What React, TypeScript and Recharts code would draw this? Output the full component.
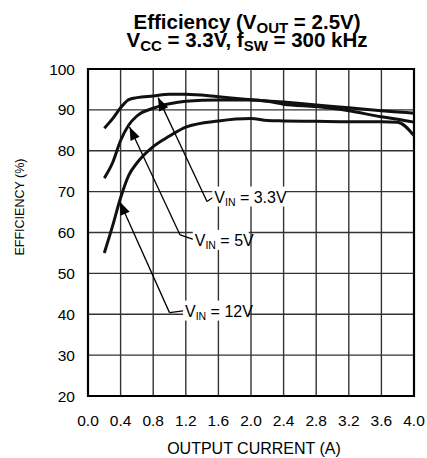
import {
  LineChart,
  Line,
  XAxis,
  YAxis,
  CartesianGrid,
  ReferenceLine,
  ReferenceDot,
  ReferenceArea,
} from "recharts";

// output current (A)
const current = [0.2, 0.3, 0.4, 0.5, 0.6, 0.8, 1.0, 1.2, 1.6, 2.0, 2.2, 2.4, 2.8, 3.2, 3.6, 3.8, 4.0];
// efficiency (%) per input voltage
const effVin33 = [85.5, 87.8, 90.5, 92.5, 93.0, 93.4, 93.8, 93.8, 93.2, 92.5, 92.2, 91.9, 91.2, 90.5, 89.8, 89.5, 89.2];
const effVin5 = [73.3, 77.0, 82.5, 86.3, 88.5, 90.4, 91.5, 92.1, 92.4, 92.4, 92.1, 91.4, 90.8, 89.8, 88.3, 87.7, 87.0];
const effVin12 = [55.0, 61.5, 68.5, 74.0, 77.0, 81.0, 83.6, 85.8, 87.3, 87.9, 87.4, 87.3, 87.2, 87.1, 87.1, 87.0, 83.7];

const xTicks = [0, 0.4, 0.8, 1.2, 1.6, 2.0, 2.4, 2.8, 3.2, 3.6, 4.0];
const yTicks = [20, 30, 40, 50, 60, 70, 80, 90, 100];

// callouts: label, arrow tip on the curve, elbow, text anchor
const calloutLabels = ["3.3V", "5V", "12V"];
const calloutTips = [[0.86, 93.0], [0.51, 85.8], [0.39, 67.5]];
const calloutElbows = [[1.46, 67.6], [1.13, 59.4], [1.0, 40.4]];
const calloutTexts = [[1.55, 68.8], [1.31, 58.2], [1.19, 40.9]];

const data = current.map((c, i) => ({
  current: c,
  v33: effVin33[i],
  v5: effVin5[i],
  v12: effVin12[i],
}));

const FONT = "'Liberation Sans', Arial, sans-serif";

function ArrowShape(props: any) {
  const { x1, y1, x2, y2 } = props;
  const dx = x2 - x1;
  const dy = y2 - y1;
  const len = Math.sqrt(dx * dx + dy * dy) || 1;
  const ux = dx / len;
  const uy = dy / len;
  const hl = 13;
  const hw = 5;
  const bx = x1 + ux * hl;
  const by = y1 + uy * hl;
  return (
    <g>
      <line x1={x1} y1={y1} x2={x2} y2={y2} stroke="#000" strokeWidth={1.3} />
      <polygon
        points={`${x1},${y1} ${bx - uy * hw},${by + ux * hw} ${bx + uy * hw},${by - ux * hw}`}
        fill="#000"
      />
    </g>
  );
}

function LeaderShape(props: any) {
  const { x1, y1, x2, y2 } = props;
  return <line x1={x1} y1={y1} x2={x2} y2={y2} stroke="#000" strokeWidth={1.3} />;
}

function calloutShape(label: string) {
  return (props: any) => {
    const { cx, cy } = props;
    const w = 38 + label.length * 9;
    return (
      <g>
        <rect x={cx - 2} y={cy - 10} width={w} height={20} fill="#fff" />
        <text x={cx} y={cy + 6} fontSize={16} fontFamily={FONT} fill="#000">
          V
          <tspan fontSize={10.5} dy={3}>IN</tspan>
          <tspan dy={-3}>{` = ${label}`}</tspan>
        </text>
      </g>
    );
  };
}

export default function App() {
  return (
    <div style={{ position: "absolute", left: 0, top: 0, width: 427, height: 458, background: "#fff", fontFamily: FONT }}>
      <svg width={427} height={60} style={{ position: "absolute", left: 0, top: 0 }}>
        <text x={247} y={29} textAnchor="middle" fontSize={20.5} fontWeight="bold" fontFamily={FONT} fill="#000">
          Efficiency (V<tspan fontSize={15} dy={4}>OUT</tspan>
          <tspan dy={-4}> = 2.5V)</tspan>
        </text>
        <text x={247} y={46.5} textAnchor="middle" fontSize={20.5} fontWeight="bold" fontFamily={FONT} fill="#000">
          V<tspan fontSize={15} dy={4}>CC</tspan>
          <tspan dy={-4}> = 3.3V, f</tspan>
          <tspan fontSize={15} dy={4}>SW</tspan>
          <tspan dy={-4}> = 300 kHz</tspan>
        </text>
      </svg>
      <LineChart width={427} height={458} data={data} margin={{ top: 69, right: 13, bottom: 0, left: 0 }}>
        <CartesianGrid stroke="#333" strokeWidth={1.4} />
        <XAxis
          dataKey="current"
          type="number"
          domain={[0, 4]}
          ticks={xTicks}
          tickFormatter={(v: number) => v.toFixed(1)}
          height={62}
          tickLine={false}
          axisLine={false}
          tickMargin={13}
          tick={{ fontSize: 15.5, fill: "#000", fontFamily: FONT }}
          interval={0}
        />
        <YAxis
          type="number"
          domain={[20, 100]}
          ticks={yTicks}
          width={88}
          tickLine={false}
          axisLine={false}
          tickMargin={7}
          tick={{ fontSize: 15.5, fill: "#000", fontFamily: FONT }}
          interval={0}
        />
        <ReferenceArea x1={0} x2={4} y1={20} y2={100} fill="none" stroke="#000" strokeWidth={2.2} />
        <Line type="monotone" dataKey="v33" stroke="#111" strokeWidth={3} dot={false} isAnimationActive={false} />
        <Line type="monotone" dataKey="v5" stroke="#111" strokeWidth={3} dot={false} isAnimationActive={false} />
        <Line type="monotone" dataKey="v12" stroke="#111" strokeWidth={3} dot={false} isAnimationActive={false} />
        {calloutLabels.map((label, i) => (
          <ReferenceLine
            key={`a${label}`}
            segment={[
              { x: calloutTips[i][0], y: calloutTips[i][1] },
              { x: calloutElbows[i][0], y: calloutElbows[i][1] },
            ]}
            shape={ArrowShape}
          />
        ))}
        {calloutLabels.map((label, i) => (
          <ReferenceLine
            key={`l${label}`}
            segment={[
              { x: calloutElbows[i][0], y: calloutElbows[i][1] },
              { x: calloutTexts[i][0], y: calloutTexts[i][1] },
            ]}
            shape={LeaderShape}
          />
        ))}
        {calloutLabels.map((label, i) => (
          <ReferenceDot
            key={`t${label}`}
            x={calloutTexts[i][0]}
            y={calloutTexts[i][1]}
            shape={calloutShape(label)}
          />
        ))}
      </LineChart>
      <div
        style={{
          position: "absolute",
          left: 54,
          width: 400,
          top: 440,
          textAlign: "center",
          fontSize: 16,
          color: "#000",
        }}
      >
        OUTPUT CURRENT (A)
      </div>
      <div
        style={{
          position: "absolute",
          left: 20,
          top: 207,
          transform: "translate(-50%, -50%) rotate(-90deg)",
          whiteSpace: "nowrap",
          fontSize: 12.5,
          color: "#000",
        }}
      >
        EFFICIENCY (%)
      </div>
    </div>
  );
}
